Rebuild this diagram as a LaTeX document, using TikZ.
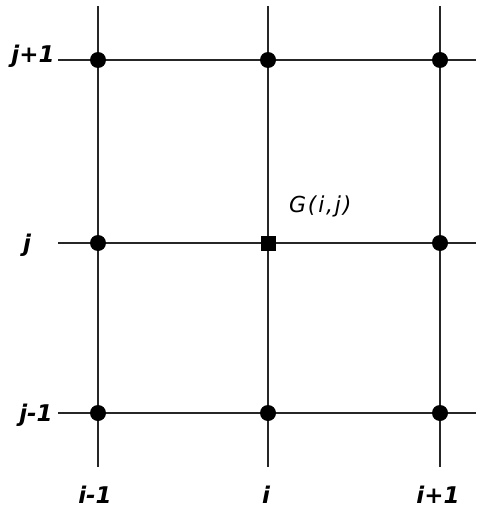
\documentclass[tikz,border=0pt]{standalone}
\usepackage{fontspec}
\newfontfamily\labfont{DejaVu Sans Bold Oblique}
\newfontfamily\gfont{DejaVu Sans Oblique}[LetterSpace=8]
\begin{document}
\begin{tikzpicture}[x=1pt,y=-1pt,
  gridline/.style={line width=1.6pt,black!85},
  dot/.style={circle,fill=black,inner sep=0pt,minimum size=16pt},
  sq/.style={rectangle,fill=black,inner sep=0pt,minimum size=15pt},
  lab/.style={inner sep=0pt,font=\labfont\fontsize{23}{26}\selectfont}]
\useasboundingbox (0,0) rectangle (476,508);
% line end coordinates
\coordinate (vt1) at (98,6);   \coordinate (vb1) at (98,467);
\coordinate (vt2) at (268,6);  \coordinate (vb2) at (268,467);
\coordinate (vt3) at (440,6);  \coordinate (vb3) at (440,467);
\coordinate (hl1) at (58,60);  \coordinate (hr1) at (476,60);
\coordinate (hl2) at (58,243); \coordinate (hr2) at (476,243);
\coordinate (hl3) at (58,413); \coordinate (hr3) at (476,413);
\draw[gridline] (vt1) -- (vb1);
\draw[gridline] (vt2) -- (vb2);
\draw[gridline] (vt3) -- (vb3);
\draw[gridline] (hl1) -- (hr1);
\draw[gridline] (hl2) -- (hr2);
\draw[gridline] (hl3) -- (hr3);
% grid points
\node[dot] (p11) at (98,60) {};
\node[dot] (p21) at (268,60) {};
\node[dot] (p31) at (440,60) {};
\node[dot] (p12) at (98,243) {};
\node[sq]  (g)   at (268,243) {};
\node[dot] (p32) at (440,243) {};
\node[dot] (p13) at (98,413) {};
\node[dot] (p23) at (268,413) {};
\node[dot] (p33) at (440,413) {};
% labels
\node[lab,anchor=base] (ljp) at (33,63) {j+1};
\node[lab,anchor=base] (lj)  at (27,251) {j};
\node[lab,anchor=base] (ljm) at (36,421) {j-1};
\node[lab,anchor=base] (lim) at (95,503) {i-1};
\node[lab,anchor=base] (li)  at (266,503) {i};
\node[lab,anchor=base] (lip) at (438,503) {i+1};
\node[inner sep=0pt,anchor=base west,font=\gfont\fontsize{22}{26}\selectfont] (gl) at (289,212) {G(i,j)};
\end{tikzpicture}
\end{document}
